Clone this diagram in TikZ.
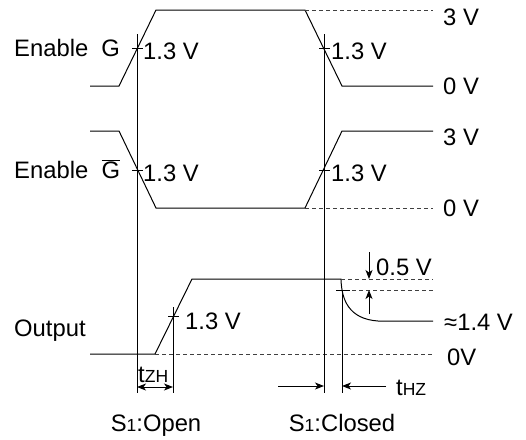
\documentclass[tikz,border=0pt]{standalone}
\usepackage{fontspec}
\setmainfont{Liberation Sans}
\usetikzlibrary{arrows.meta}
\newcommand{\subsz}{\fontsize{17.5}{18}\selectfont}
\begin{document}
\begin{tikzpicture}[x=1pt,y=-1pt,
  wave/.style={line width=1pt},
  guide/.style={line width=0.9pt, dash pattern=on 4pt off 3pt, black!75},
  lbl/.style={inner sep=0pt, anchor=base west, font=\fontsize{23.8}{27}\selectfont},
  ctr/.style={inner sep=0pt, anchor=base, font=\fontsize{23.8}{27}\selectfont},
  arr/.style={line width=1pt, -{Stealth[length=9pt,width=7pt,inset=2.5pt]}},
  darr/.style={line width=1pt, {Stealth[length=9pt,width=7pt,inset=2.5pt]}-{Stealth[length=9pt,width=7pt,inset=2.5pt]}},
]
\useasboundingbox (0,0) rectangle (526,439);

% ---- Enable G waveform
\coordinate (g0) at (90,86);
\coordinate (g1) at (119,86);
\coordinate (g2) at (156,10);
\coordinate (g3) at (305,10);
\coordinate (g4) at (342,86);
\coordinate (g5) at (433,86);
\coordinate (g6) at (433,10);
\draw[wave] (g0) -- (g1) -- (g2) -- (g3) -- (g4) -- (g5);
\draw[guide] (g3) -- (g6);

% ---- Enable G-bar waveform
\coordinate (b0) at (90,131);
\coordinate (b1) at (119,131);
\coordinate (b2) at (156,208);
\coordinate (b3) at (305,208);
\coordinate (b4) at (342,131);
\coordinate (b5) at (433,131);
\coordinate (b6) at (433,208);
\draw[wave] (b0) -- (b1) -- (b2) -- (b3) -- (b4) -- (b5);
\draw[guide] (b3) -- (b6);

% ---- Output waveform
\coordinate (o0) at (90,354);
\coordinate (o1) at (155,354);
\coordinate (o2) at (192,279);
\coordinate (o3) at (341,279);
\coordinate (o4) at (378,321);
\coordinate (o5) at (433,321);
\coordinate (o6) at (433,354);
\coordinate (o7) at (433,279);
\coordinate (o8) at (345,290);
\coordinate (o9) at (433,290);
\draw[wave] (o0) -- (o1) -- (o2) -- (o3)
  .. controls (341.5,300) and (349,319) .. (o4) -- (o5);
\draw[guide] (o1) -- (o6);
\draw[guide] (o3) -- (o7);
\draw[guide] (o8) -- (o9);

% ---- vertical reference lines
\coordinate (v1t) at (137,34);  \coordinate (v1b) at (137,393);
\coordinate (v2t) at (324,34);  \coordinate (v2b) at (324,393);
\coordinate (v3t) at (173,307); \coordinate (v3b) at (173,393);
\coordinate (v4t) at (342,290); \coordinate (v4b) at (342,393);
\draw[wave] (v1t) -- (v1b);
\draw[wave] (v2t) -- (v2b);
\draw[wave] (v3t) -- (v3b);
\draw[wave] (v4t) -- (v4b);

% ---- ticks
\foreach \x/\y in {137/48, 137/170, 324/48, 324/170, 173/316}
  \draw[wave] (\x-5,\y) -- (\x+6,\y);
\draw[wave] (336,290) -- (350,290);

% ---- labels
\node[lbl] (lg)  at (14,56)  {Enable\ \ G};
\node[lbl] (lgb) at (14,178) {Enable\ \ $\overline{\mbox{G}}$};
\node[lbl] (lo)  at (14,336) {Output};

\node[lbl] (t1) at (143,59)  {1.3 V};
\node[lbl] (t2) at (331,59)  {1.3 V};
\node[lbl] (t3) at (143,181) {1.3 V};
\node[lbl] (t4) at (331,181) {1.3 V};
\node[lbl] (t5) at (185,329) {1.3 V};

\node[lbl] (r1) at (443,25)  {3 V};
\node[lbl] (r2) at (443,94)  {0 V};
\node[lbl] (r3) at (443,145) {3 V};
\node[lbl] (r4) at (443,216) {0 V};
\node[lbl] (r5) at (376,275) {0.5 V};
\node[lbl] (r6) at (444,330) {≈1.4 V};
\node[lbl] (r7) at (447,365) {0V};

% ---- 0.5 V arrows
\coordinate (a1s) at (369,252); \coordinate (a1e) at (369,279);
\coordinate (a2s) at (369,314); \coordinate (a2e) at (369,290);
\draw[arr] (a1s) -- (a1e);
\draw[arr] (a2s) -- (a2e);

% ---- tZH
\coordinate (z1) at (137,387); \coordinate (z2) at (173,387);
\draw[darr] (z1) -- (z2);
\node[lbl] (tzh) at (138,382) {t{\subsz ZH}};

% ---- tHZ
\coordinate (h1) at (278,386); \coordinate (h2) at (324,386);
\coordinate (h3) at (386,386); \coordinate (h4) at (342,386);
\draw[arr] (h1) -- (h2);
\draw[arr] (h3) -- (h4);
\node[lbl] (thz) at (396,395) {t{\subsz HZ}};

% ---- bottom labels
\node[ctr] (s1) at (156,431) {S{\subsz 1}:Open};
\node[ctr] (s2) at (342,431) {S{\subsz 1}:Closed};
\end{tikzpicture}
\end{document}
